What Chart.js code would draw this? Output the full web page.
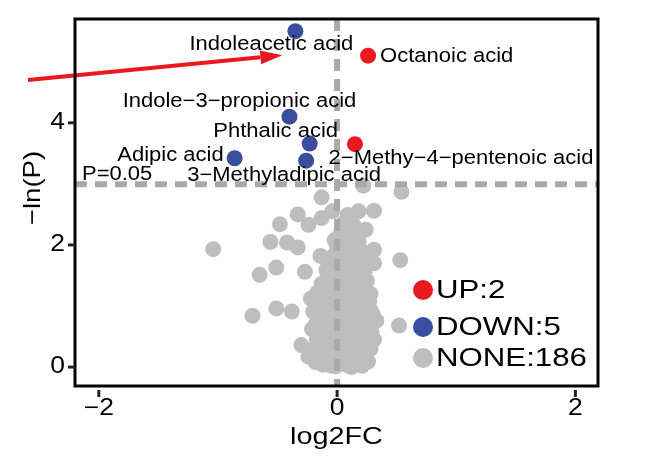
<!DOCTYPE html>
<html><head><meta charset="utf-8">
<script src="https://cdn.jsdelivr.net/npm/chart.js@4.4.1/dist/chart.umd.min.js"></script>
<style>html,body{margin:0;padding:0;background:#fff;}canvas{display:block;}</style>
</head><body>
<canvas id="c" width="650" height="463"></canvas>
<script>
// ---- data ----
const upNames = ["Octanoic acid", "2\u2212Methy\u22124\u2212pentenoic acid"];
const upX = [0.26, 0.15];
const upY = [5.10, 3.65];
const downNames = ["Indoleacetic acid", "Indole\u22123\u2212propionic acid", "Phthalic acid", "Adipic acid", "3\u2212Methyladipic acid"];
const downX = [-0.35, -0.40, -0.23, -0.86, -0.26];
const downY = [5.50, 4.10, 3.66, 3.42, 3.38];
const noneX = [
 -0.13,0.22,0.54,-0.33,-0.48,-0.24,-0.13,-0.04,0.09,0.18,0.31,0.24,-0.56,-0.42,-0.33,-1.04,-0.14,-0.02,0.11,0.31,0.53,-0.51,-0.65,-0.27,-0.09,0.31,-0.51,-0.38,-0.71,0.28,0.29,0.52,-0.30,-0.24,
 -0.12,-0.05,0.02,0.09,0.15,0.21,-0.18,0.26,
 -0.15,-0.08,0.00,0.06,0.12,0.19,0.24,-0.02,
 -0.19,-0.11,-0.04,0.03,0.10,0.16,0.22,0.28,
 -0.17,-0.09,-0.01,0.05,0.13,0.19,0.25,0.31,
 -0.21,-0.13,-0.06,0.01,0.08,0.14,0.20,0.27,
 -0.16,-0.08,-0.02,0.04,0.11,0.17,0.23,0.33,
 -0.20,-0.12,-0.05,0.02,0.09,0.15,0.21,0.26,
 -0.14,-0.07,0.00,0.06,0.12,0.18,0.24,-0.22,
 -0.17,-0.10,-0.03,0.04,0.10,0.16,0.22,0.28,
 -0.13,-0.06,0.01,0.07,0.13,0.19,0.25,
 -0.08,-0.01,0.05,0.11,0.17,0.23,
 -0.05,0.02,0.08,0.14,0.20,
 -0.03,0.04,0.10,0.16,0.22,
 0.00,0.07,0.13,0.19,
 0.03,0.10,0.16,0.05,0.14,
 -0.09,0.05,0.18,-0.13,0.08,0.20,-0.06,0.07,0.17,-0.14,0.02,0.10,0.22,-0.10,0.05,0.17,-0.03,0.08,0.19,-0.09,0.04,0.14,-0.04,0.09,0.20,-0.11,0.02,0.12,0.03,0.16,-0.02,0.11,0.06,0.17,0.01,0.12,0.09,0.18,-0.01,0.12,0.24,-0.16,0.29,-0.18,0.30,-0.17,0.27,-0.15
];
const noneY = [
 2.78,2.97,2.87,2.50,2.34,2.33,2.44,2.55,2.49,2.55,2.56,2.25,2.05,2.04,1.96,1.93,1.82,2.08,2.11,1.92,1.75,1.63,1.51,1.56,1.59,1.70,0.96,0.91,0.84,0.93,0.77,0.68,0.36,0.17,
 0.04,0.02,0.05,0.03,0.06,0.02,0.08,0.09,
 0.17,0.12,0.15,0.18,0.13,0.16,0.21,0.22,
 0.31,0.28,0.33,0.27,0.32,0.29,0.35,0.30,
 0.46,0.42,0.48,0.44,0.47,0.41,0.49,0.45,
 0.62,0.58,0.64,0.57,0.61,0.66,0.59,0.63,
 0.77,0.73,0.79,0.74,0.78,0.72,0.80,0.76,
 0.91,0.88,0.94,0.87,0.92,0.95,0.89,0.97,
 1.06,1.02,1.08,1.03,1.09,1.04,1.10,1.12,
 1.21,1.18,1.24,1.19,1.23,1.17,1.25,1.20,
 1.36,1.33,1.38,1.34,1.39,1.32,1.41,
 1.49,1.53,1.47,1.52,1.46,1.55,
 1.66,1.63,1.68,1.62,1.70,
 1.82,1.79,1.84,1.78,1.86,
 1.96,1.93,1.99,1.94,
 2.18,2.22,2.15,2.35,2.32,
 0.08,0.10,0.09,0.22,0.24,0.25,0.38,0.37,0.39,0.52,0.53,0.55,0.54,0.68,0.69,0.67,0.85,0.84,0.83,0.99,0.98,1.00,1.14,1.13,1.15,1.28,1.29,1.27,1.43,1.42,1.58,1.58,1.74,1.73,1.88,1.89,2.05,2.06,0.01,0.00,0.12,0.40,0.57,0.70,0.86,1.00,1.08,1.13
];
const xTicks = [-2, 0, 2];
const yTicks = [0, 2, 4];
const pCut = 0.05;
const fcCut = 0;

// ---- styling ----
const FONT = '"Liberation Sans", Arial, Helvetica, sans-serif';
const RED = '#E8191F', BLUE = '#3A4D9F', GREY = '#BEBEBE', DASH = '#A9A9A9';
// label placement relative to the point (pixels)
const labelPos = {
  "Indoleacetic acid": [-24, 13, 'center'],
  "Octanoic acid": [12, 1, 'left'],
  "Indole\u22123\u2212propionic acid": [-50, -15, 'center'],
  "Phthalic acid": [-34, -12, 'center'],
  "2\u2212Methy\u22124\u2212pentenoic acid": [106, 14, 'center'],
  "Adipic acid": [-11, -3, 'right'],
  "3\u2212Methyladipic acid": [-22, 15, 'center']
};

function sText(ctx, text, x, y, size, sx, align, rot) {
  ctx.save();
  ctx.font = size + 'px ' + FONT;
  ctx.textBaseline = 'middle';
  ctx.textAlign = align;
  ctx.fillStyle = '#000';
  ctx.translate(x, y);
  if (rot) ctx.rotate(rot);
  ctx.scale(sx, 1);
  ctx.fillText(text, 0, 0);
  ctx.restore();
}
const pts = (xs, ys) => xs.map((x, i) => ({x: x, y: ys[i]}));

const decor = {
  id: 'decor',
  afterDatasetsDraw(chart) {
    const ctx = chart.ctx, a = chart.chartArea, xs = chart.scales.x, ys = chart.scales.y;
    ctx.save();
    ctx.strokeStyle = DASH; ctx.lineWidth = 6; ctx.setLineDash([12, 8]);
    const yc = ys.getPixelForValue(-Math.log(pCut));
    ctx.beginPath(); ctx.moveTo(a.left, yc); ctx.lineTo(a.right, yc); ctx.stroke();
    const xc = xs.getPixelForValue(fcCut);
    ctx.beginPath(); ctx.moveTo(xc, a.top); ctx.lineTo(xc, a.bottom); ctx.stroke();
    ctx.restore();
  },
  afterDraw(chart) {
    const ctx = chart.ctx, a = chart.chartArea, xs = chart.scales.x, ys = chart.scales.y;
    // point labels
    const lab = (names, X, Y) => names.forEach((n, i) => {
      const p = labelPos[n];
      sText(ctx, n, xs.getPixelForValue(X[i]) + p[0], ys.getPixelForValue(Y[i]) + p[1], 20, 1.1, p[2]);
    });
    lab(upNames, upX, upY);
    lab(downNames, downX, downY);
    sText(ctx, 'P=' + pCut.toFixed(2), a.left + 7, ys.getPixelForValue(-Math.log(pCut)) - 10, 20, 1.1, 'left');
    // arrow to Indoleacetic acid
    ctx.save();
    ctx.strokeStyle = RED; ctx.fillStyle = RED; ctx.lineWidth = 4;
    const x0 = 28, y0 = 80;
    const tx = xs.getPixelForValue(downX[0]) - 13, ty = ys.getPixelForValue(downY[0]) + 24;
    const ang = Math.atan2(ty - y0, tx - x0);
    const hl = 22, hw = 7;
    const bx = tx - hl * Math.cos(ang), by = ty - hl * Math.sin(ang);
    ctx.beginPath(); ctx.moveTo(x0, y0); ctx.lineTo(bx, by); ctx.stroke();
    ctx.beginPath();
    ctx.moveTo(tx, ty);
    ctx.lineTo(bx + hw * Math.sin(ang), by - hw * Math.cos(ang));
    ctx.lineTo(bx - hw * Math.sin(ang), by + hw * Math.cos(ang));
    ctx.closePath(); ctx.fill();
    ctx.restore();
    // legend
    const leg = [[RED, 'UP:' + upX.length, 290], [BLUE, 'DOWN:' + downX.length, 327], [GREY, 'NONE:' + noneX.length, 358]];
    leg.forEach(l => {
      ctx.beginPath(); ctx.fillStyle = l[0]; ctx.arc(423, l[2], 10, 0, Math.PI * 2); ctx.fill();
      sText(ctx, l[1], 436, l[2] + 1, 26, 1.2, 'left');
    });
    // box
    ctx.save();
    ctx.strokeStyle = '#000'; ctx.lineWidth = 3;
    ctx.strokeRect(a.left, a.top, a.right - a.left, a.bottom - a.top);
    ctx.strokeStyle = '#222'; ctx.lineWidth = 3;
    xTicks.forEach(v => {
      const px = xs.getPixelForValue(v);
      ctx.beginPath(); ctx.moveTo(px, a.bottom + 4); ctx.lineTo(px, a.bottom + 11); ctx.stroke();
      sText(ctx, v < 0 ? '\u2212' + Math.abs(v) : String(v), px, a.bottom + 23, 23, 1.15, 'center');
    });
    yTicks.forEach(v => {
      const py = ys.getPixelForValue(v);
      ctx.beginPath(); ctx.moveTo(a.left - 7, py); ctx.lineTo(a.left, py); ctx.stroke();
      sText(ctx, String(v), a.left - 10, py, 23, 1.15, 'right');
    });
    ctx.restore();
    // axis titles
    sText(ctx, 'log2FC', (a.left + a.right) / 2, 437, 24, 1.2, 'center');
    sText(ctx, '\u2212ln(P)', 33, 188, 24, 1.15, 'center', -Math.PI / 2);
  }
};

new Chart(document.getElementById('c'), {
  type: 'scatter',
  data: {
    datasets: [
      {label: 'NONE', data: pts(noneX, noneY), backgroundColor: GREY, pointRadius: 8, borderWidth: 0},
      {label: 'DOWN', data: pts(downX, downY), backgroundColor: BLUE, pointRadius: 8, borderWidth: 0},
      {label: 'UP', data: pts(upX, upY), backgroundColor: RED, pointRadius: 8, borderWidth: 0}
    ]
  },
  options: {
    responsive: false, animation: false, devicePixelRatio: 1,
    layout: {padding: {top: 19, right: 52, left: 0, bottom: 0}},
    plugins: {legend: {display: false}, tooltip: {enabled: false}},
    scales: {
      x: {type: 'linear', min: -2.2, max: 2.19, ticks: {display: false}, grid: {display: false}, border: {display: false},
          afterFit: s => { s.height = 77; }},
      y: {type: 'linear', min: -0.31, max: 5.7, ticks: {display: false}, grid: {display: false}, border: {display: false},
          afterFit: s => { s.width = 75; }}
    }
  },
  plugins: [decor]
});
</script>
</body></html>
